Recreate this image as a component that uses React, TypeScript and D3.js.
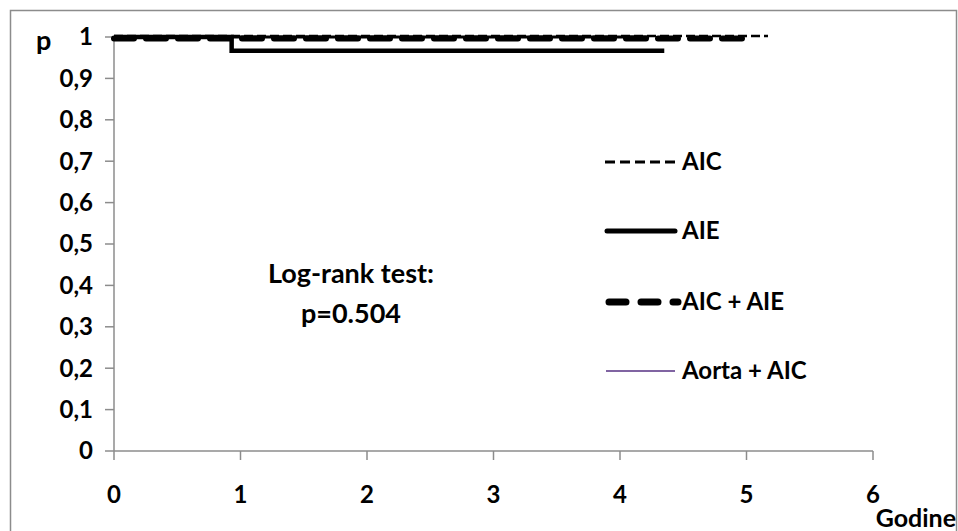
import React from "react";
import * as d3 from "d3";

const yTicks = [0, 0.1, 0.2, 0.3, 0.4, 0.5, 0.6, 0.7, 0.8, 0.9, 1];
const xTicks = [0, 1, 2, 3, 4, 5, 6];

// survival steps: [time, p]
const aortaAic: [number, number][] = [[0, 1], [4.23, 1]];
const aicAie: [number, number][] = [[0, 1], [5.0, 1]];
const aic: [number, number][] = [[0, 1], [5.17, 1]];
const aie: [number, number][] = [[0, 1], [0.93, 1], [0.93, 0.967], [4.35, 0.967]];

const legendItems = ["AIC", "AIE", "AIC + AIE", "Aorta + AIC"];

const W = 958;
const H = 531;
const FONT = "Lato, 'Open Sans', sans-serif";

export default function App() {
  const x = d3.scaleLinear().domain([0, 6]).range([114, 873]);
  const y = d3.scaleLinear().domain([0, 1]).range([451, 37]);
  const line = d3
    .line<[number, number]>()
    .x((d) => x(d[0]))
    .y((d) => y(d[1]))
    .curve(d3.curveLinear);

  const fmt = (v: number) => (v === 0 || v === 1 ? String(v) : d3.format(".1f")(v).replace(".", ","));

  const legendY = [162, 231, 302, 371];
  const legendStyles = [
    { stroke: "#000", width: 3, dash: "10,5", cap: "butt", x1: 605, x2: 675 },
    { stroke: "#000", width: 5, dash: undefined, cap: "round", x1: 607, x2: 675 },
    { stroke: "#000", width: 7, dash: "17,15", cap: "round", x1: 609, x2: 678 },
    { stroke: "#8064a2", width: 2, dash: undefined, cap: "butt", x1: 606, x2: 675 },
  ];

  return (
    <div style={{ position: "absolute", left: 0, top: 0 }}>
      <svg width={W} height={H} style={{ display: "block" }}>
        <rect x={0} y={0} width={W} height={H} fill="#fff" />
        <rect x={10.5} y={10.5} width={946} height={540} fill="#fff" stroke="#8c8c8c" strokeWidth={1.5} />

        {/* axes */}
        <line x1={x(0)} x2={x(0)} y1={y(1)} y2={y(0)} stroke="#8c8c8c" strokeWidth={1.5} />
        <line x1={x(0)} x2={x(6)} y1={y(0)} y2={y(0)} stroke="#8c8c8c" strokeWidth={1.5} />
        {yTicks.map((t) => (
          <g key={"y" + t}>
            <line x1={x(0) - 9} x2={x(0)} y1={y(t)} y2={y(t)} stroke="#8c8c8c" strokeWidth={1.5} />
            <text
              x={93}
              y={y(t)}
              dy="0.35em"
              textAnchor="end"
              fontFamily={FONT}
              fontWeight="bold"
              fontSize={24}
              fill="#000"
            >
              {fmt(t)}
            </text>
          </g>
        ))}
        {xTicks.map((t) => (
          <g key={"x" + t}>
            <line x1={x(t)} x2={x(t)} y1={y(0)} y2={y(0) + 9} stroke="#8c8c8c" strokeWidth={1.5} />
            <text
              x={x(t)}
              y={495}
              dy="0.35em"
              textAnchor="middle"
              fontFamily={FONT}
              fontWeight="bold"
              fontSize={24}
              fill="#000"
            >
              {t}
            </text>
          </g>
        ))}
        <text x={36} y={50} fontFamily={FONT} fontWeight="bold" fontSize={27} fill="#000">
          p
        </text>
        <text x={956} y={527} textAnchor="end" fontFamily={FONT} fontWeight="bold" fontSize={25} fill="#000">
          Godine
        </text>

        {/* series */}
        <path d={line(aortaAic) ?? ""} fill="none" stroke="#000" strokeWidth={3} />
        <path d={line(aie) ?? ""} fill="none" stroke="#000" strokeWidth={4.5} strokeLinejoin="miter" />
        <path
          d={line(aicAie) ?? ""}
          fill="none"
          stroke="#000"
          strokeWidth={6}
          strokeDasharray="20,12"
          strokeLinecap="round"
          transform="translate(0,1.5)"
        />
        <path
          d={line(aic) ?? ""}
          fill="none"
          stroke="#000"
          strokeWidth={2.5}
          strokeDasharray="9,4"
          transform="translate(0,-1)"
        />

        {/* legend */}
        {legendItems.map((name, i) => {
          const s = legendStyles[i];
          return (
            <g key={name}>
              <line
                x1={s.x1}
                x2={s.x2}
                y1={legendY[i]}
                y2={legendY[i]}
                stroke={s.stroke}
                strokeWidth={s.width}
                strokeDasharray={s.dash}
                strokeLinecap={s.cap as any}
              />
              <text
                x={682}
                y={legendY[i]}
                dy="0.35em"
                fontFamily={FONT}
                fontWeight="bold"
                fontSize={24}
                fill="#000"
              >
                {name}
              </text>
            </g>
          );
        })}

        {/* annotation */}
        <text x={351} y={283} textAnchor="middle" fontFamily={FONT} fontWeight="bold" fontSize={27} fill="#000">
          Log-rank test:
        </text>
        <text x={351} y={323} textAnchor="middle" fontFamily={FONT} fontWeight="bold" fontSize={27} fill="#000">
          p=0.504
        </text>
      </svg>
    </div>
  );
}
